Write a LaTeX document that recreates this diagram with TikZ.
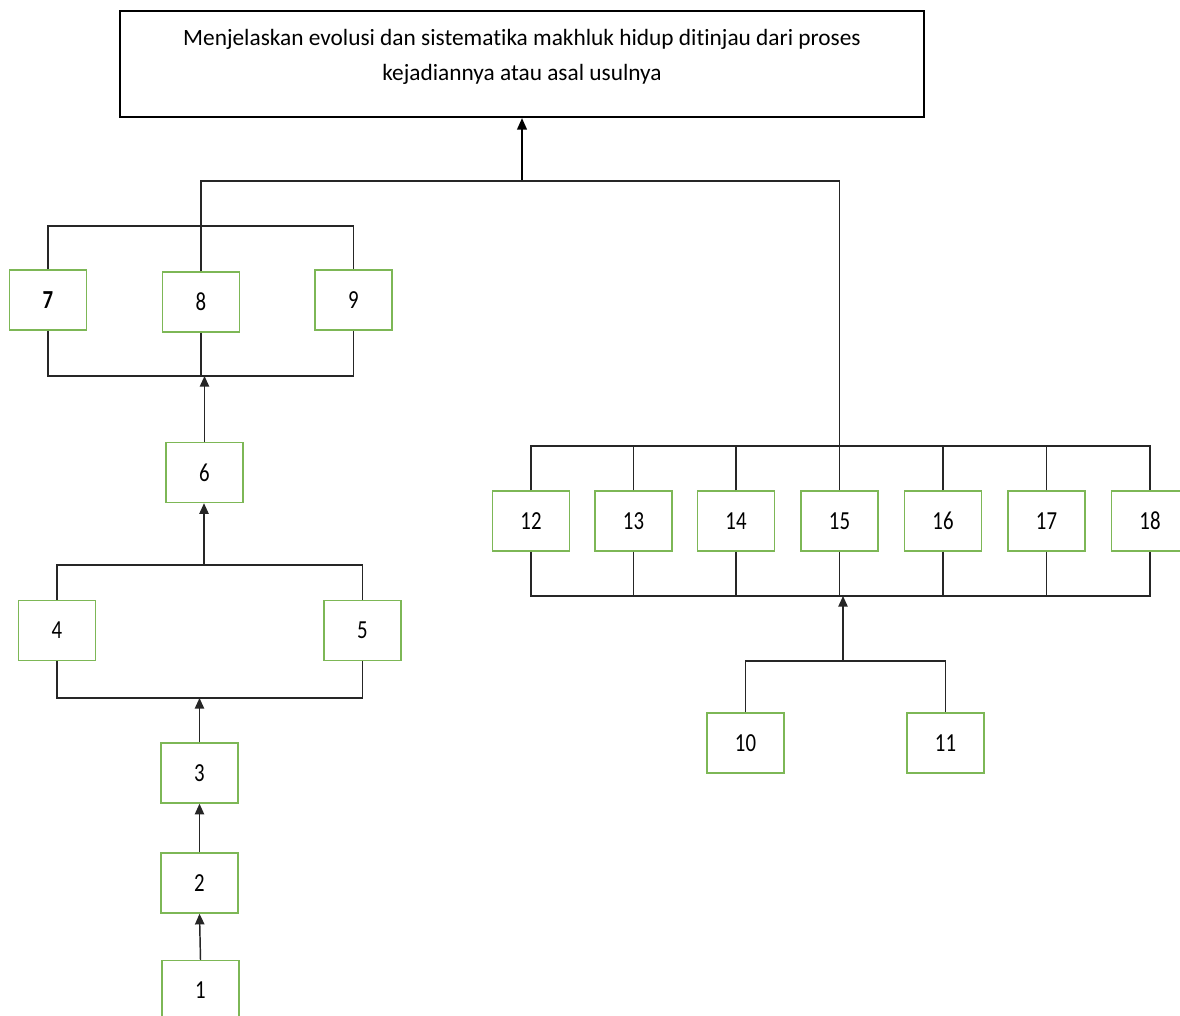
\documentclass[tikz,border=0pt]{standalone}
\usepackage{fontspec}
\setmainfont[Ligatures={NoCommon,NoRare}]{Carlito}
\newfontfamily\numfont[FakeStretch=0.8]{Carlito}
\usetikzlibrary{arrows.meta}
\definecolor{boxgreen}{HTML}{7DB756}
\tikzset{
  numbox/.style={draw=boxgreen, line width=1.1pt, minimum width=58pt, minimum height=45pt, inner sep=0pt, font=\numfont\fontsize{19.5}{22}\selectfont},
  conn/.style={line width=1.1pt, black!85},
  arr/.style={conn, -{Triangle[length=8pt,width=7pt]}},
  bigarr/.style={line width=2.2pt, black, -{Triangle[length=9pt,width=7pt]}},
}
\begin{document}
\begin{tikzpicture}[x=0.75pt,y=-0.75pt]
\useasboundingbox (0,0) rectangle (1180,1016);
\clip (0,0) rectangle (1180,1016);
\fill[white] (0,0) rectangle (1180,1016);
\node[draw, line width=1.1pt, minimum width=603pt, minimum height=79.5pt, inner sep=0pt, align=center, font=\fontsize{17.5}{26.25}\selectfont] (top) at (522,64) {Menjelaskan evolusi dan sistematika makhluk hidup ditinjau dari proses\\kejadiannya atau asal usulnya\rule[-13pt]{0pt}{13pt}};
% left column
\node[numbox] (b7) at (48,300) {\textbf{7}};
\node[numbox] (b8) at (201,302) {8};
\node[numbox] (b9) at (353.5,300) {9};
\node[numbox] (b6) at (204.5,472.5) {6};
\node[numbox] (b4) at (57,630.5) {4};
\node[numbox] (b5) at (362.5,630.5) {5};
\node[numbox] (b3) at (199.5,773) {3};
\node[numbox] (b2) at (199.5,883) {2};
\node[numbox] (b1) at (200.5,990.5) {1};
% right group
\node[numbox] (b12) at (531,521) {12};
\node[numbox] (b13) at (633.5,521) {13};
\node[numbox] (b14) at (736,521) {14};
\node[numbox] (b15) at (839.5,521) {15};
\node[numbox] (b16) at (943,521) {16};
\node[numbox] (b17) at (1046.5,521) {17};
\node[numbox] (b18) at (1150,521) {18};
\node[numbox] (b10) at (745.5,743) {10};
\node[numbox] (b11) at (945.5,743) {11};
% junction coordinates
\coordinate (hub) at (522,181);
\coordinate (rtop) at (839.5,446);
\coordinate (rbot) at (843,596);
\coordinate (h1011) at (843,661);
\coordinate (top79) at (200,226);
\coordinate (bot79) at (204,376);
\coordinate (top45) at (204,565);
\coordinate (bot45) at (201,698);
% main connectors
\draw[bigarr] (hub) -- (top.south);
\draw[conn] (b8.north) |- (hub) -| (rtop);
% 7-8-9
\draw[conn] (b7.north) |- (top79) -| (b9.north);
\draw[conn] (b7.south) |- (bot79) -| (b9.south);
\draw[conn] (b8.south) -- (b8.south |- bot79);
\draw[arr] (b6.north) -- (b6.north |- bot79);
% 4-5
\draw[conn] (b4.north) |- (top45) -| (b5.north);
\draw[arr] (top45) -- (top45 |- b6.south);
\draw[conn] (b4.south) |- (bot45) -| (b5.south);
\draw[arr] (b3.north) -- (b3.north |- bot45);
\draw[arr] (b2.north) -- (b3.south);
\draw[arr] (b1.north) -- (b2.south);
% right group
\draw[conn] (b12.north) |- (rtop) -| (b18.north);
\foreach \n in {b13,b14,b15,b16,b17} \draw[conn] (\n.north) -- (\n.north |- rtop);
\draw[conn] (b12.south) |- (rbot) -| (b18.south);
\foreach \n in {b13,b14,b15,b16,b17} \draw[conn] (\n.south) -- (\n.south |- rbot);
\draw[arr] (h1011) -- (rbot);
\draw[conn] (b10.north) |- (h1011) -| (b11.north);
\end{tikzpicture}
\end{document}
